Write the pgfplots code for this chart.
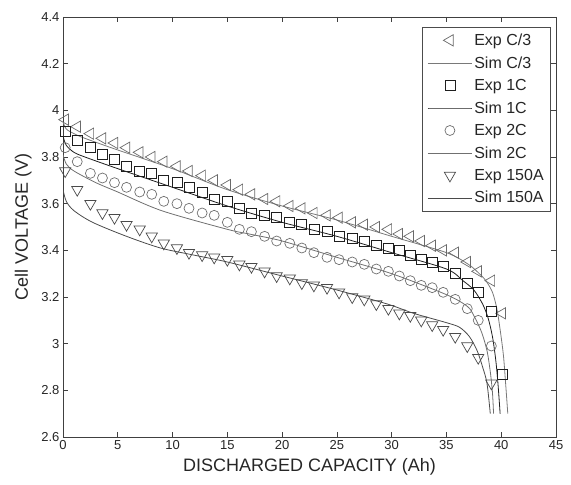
\documentclass[border=0pt]{standalone}
\usepackage{pgfplots}
\pgfplotsset{compat=1.18}
\usepackage{fontspec}
\setmainfont{Liberation Sans}

\definecolor{mkA}{HTML}{6A6A6A}
\definecolor{mkB}{HTML}{1E1E1E}
\definecolor{mkC}{HTML}{707070}
\definecolor{mkD}{HTML}{4A4A4A}

\begin{document}
\begin{tikzpicture}
\begin{axis}[
  width=493pt, height=420pt, scale only axis,
  xmin=0, xmax=45, ymin=2.6, ymax=4.4,
  xtick={0,5,...,45},
  ytick={2.6,2.8,3,3.2,3.4,3.6,3.8,4,4.2,4.4},
  yticklabels={2.6,2.8,3,3.2,3.4,3.6,3.8,4,4.2,4.4},
  tick align=inside,
  major tick length=5pt,
  axis line style={black!75, line width=0.6pt},
  tick style={black!75, line width=0.6pt},
  /pgf/number format/assume math mode=true,
  tick label style={font=\fontsize{13}{15}\selectfont, text=black!85},
  xlabel={DISCHARGED CAPACITY (Ah)},
  ylabel={Cell VOLTAGE (V)},
  label style={font=\fontsize{18}{20}\selectfont, text=black!85},
  xlabel style={yshift=-2pt},
  ylabel style={yshift=3pt},
  legend cell align=left,
  legend style={at={(rel axis cs:1,1)}, anchor=north east,
    xshift=-5pt, yshift=-10pt,
    font=\fontsize{16}{18}\selectfont, text=black!85,
    draw=black!70, line width=0.6pt,
    inner xsep=5pt, inner ysep=4.5pt, row sep=5.6pt},
  legend image code/.code={\draw[mark repeat=2,mark phase=2,#1]
    plot coordinates {(0pt,0pt)(22pt,0pt)(44pt,0pt)};},
]
% Exp C/3
\addplot[only marks, mark=triangle, mark size=6.5pt, draw=mkA, line width=0.7pt,
  mark options={rotate=90, fill=none}] coordinates {
(0.2,3.96)(1.3,3.93)(2.5,3.90)(3.6,3.88)(4.7,3.86)(5.8,3.84)(7.0,3.82)(8.1,3.80)
(9.2,3.78)(10.4,3.76)(11.5,3.74)(12.7,3.72)(13.8,3.70)(15.0,3.68)(16.1,3.66)
(17.2,3.64)(18.4,3.62)(19.5,3.61)(20.7,3.59)(21.8,3.58)(22.9,3.56)(24.1,3.55)
(25.2,3.54)(26.4,3.52)(27.5,3.51)(28.6,3.50)(29.7,3.49)(30.7,3.47)(31.7,3.46)
(32.7,3.44)(33.7,3.42)(34.7,3.40)(35.8,3.39)(36.9,3.35)(37.9,3.31)(39.1,3.27)
(40.1,3.13)};
\addlegendentry{Exp C/3}
% Sim C/3
\addplot[smooth, no marks, draw=mkA!90, line width=0.8pt] coordinates {
(0,3.95)(0.3,3.92)(1,3.90)(2,3.88)(5,3.83)(10,3.75)(15,3.66)(20,3.59)(25,3.53)
(30,3.46)(35,3.39)(37,3.34)(38,3.30)(38.6,3.27)(39.2,3.22)(39.6,3.15)(39.9,3.06)
(40.2,2.95)(40.4,2.83)(40.6,2.70)};
\addlegendentry{Sim C/3}
% Exp 1C
\addplot[only marks, mark=square, mark size=5pt, draw=mkB, line width=0.7pt,
  mark options={fill=none}] coordinates {
(0.2,3.91)(1.3,3.87)(2.5,3.84)(3.6,3.81)(4.7,3.79)(5.8,3.76)(7.0,3.74)(8.1,3.73)
(9.2,3.70)(10.4,3.69)(11.5,3.67)(12.7,3.65)(13.8,3.62)(15.0,3.61)(16.1,3.58)
(17.2,3.56)(18.4,3.55)(19.5,3.54)(20.7,3.52)(21.8,3.51)(22.9,3.49)(24.1,3.48)
(25.2,3.46)(26.4,3.45)(27.5,3.44)(28.6,3.42)(29.7,3.41)(30.7,3.40)(31.7,3.38)
(32.7,3.36)(33.7,3.35)(34.7,3.33)(35.8,3.30)(36.9,3.26)(37.9,3.22)(39.1,3.14)
(40.1,2.87)};
\addlegendentry{Exp 1C}
% Sim 1C
\addplot[smooth, no marks, draw=mkB, line width=0.8pt] coordinates {
(0,3.89)(0.3,3.85)(1,3.82)(2,3.80)(5,3.75)(10,3.67)(15,3.59)(20,3.52)(25,3.46)
(30,3.39)(35,3.32)(36.5,3.27)(37.5,3.23)(38.3,3.17)(38.8,3.11)(39.2,3.03)
(39.5,2.93)(39.7,2.83)(39.9,2.70)};
\addlegendentry{Sim 1C}
% Exp 2C
\addplot[only marks, mark=o, mark size=5pt, draw=mkC, line width=0.7pt] coordinates {
(0.2,3.84)(1.3,3.78)(2.5,3.73)(3.6,3.71)(4.7,3.69)(5.8,3.67)(7.0,3.65)(8.1,3.64)
(9.2,3.61)(10.4,3.60)(11.5,3.58)(12.7,3.56)(13.8,3.55)(15.0,3.52)(16.1,3.49)
(17.2,3.48)(18.4,3.46)(19.5,3.44)(20.7,3.43)(21.8,3.41)(22.9,3.39)(24.1,3.37)
(25.2,3.36)(26.4,3.35)(27.5,3.34)(28.6,3.32)(29.7,3.31)(30.7,3.29)(31.7,3.27)
(32.7,3.25)(33.7,3.24)(34.7,3.22)(35.8,3.19)(36.9,3.15)(37.9,3.10)(39.1,2.99)};
\addlegendentry{Exp 2C}
% Sim 2C
\addplot[smooth, no marks, draw=mkC, line width=0.8pt] coordinates {
(0,3.81)(0.3,3.77)(1,3.74)(3,3.69)(5,3.65)(9,3.57)(15,3.49)(17,3.47)(20,3.44)
(25,3.37)(30,3.30)(35,3.21)(36.9,3.16)(37.5,3.12)(38.2,3.05)(38.7,2.97)
(39.0,2.88)(39.2,2.79)(39.3,2.70)};
\addlegendentry{Sim 2C}
% Exp 150A
\addplot[only marks, mark=triangle, mark size=6.5pt, draw=mkD, line width=0.7pt,
  mark options={rotate=180, fill=none}] coordinates {
(0.2,3.74)(1.3,3.66)(2.5,3.60)(3.6,3.56)(4.7,3.54)(5.8,3.51)(7.0,3.49)(8.1,3.46)
(9.2,3.43)(10.4,3.41)(11.5,3.39)(12.7,3.38)(13.8,3.37)(15.0,3.36)(16.1,3.34)
(17.2,3.33)(18.4,3.31)(19.5,3.29)(20.7,3.28)(21.8,3.26)(22.9,3.25)(24.1,3.24)
(25.2,3.22)(26.4,3.20)(27.5,3.19)(28.6,3.17)(29.7,3.15)(30.7,3.13)(31.7,3.12)
(32.7,3.10)(33.7,3.08)(34.7,3.06)(35.8,3.03)(36.9,2.99)(37.9,2.94)(39.1,2.83)};
\addlegendentry{Exp 150A}
% Sim 150A
\addplot[smooth, no marks, draw=mkD, line width=0.8pt] coordinates {
(0,3.66)(0.3,3.61)(1,3.57)(2.7,3.52)(5.8,3.46)(8.9,3.41)(11.9,3.38)(15,3.35)
(20,3.29)(25,3.23)(29.6,3.17)(32,3.13)(35,3.09)(36.2,3.07)(37.1,3.03)(37.8,2.97)
(38.3,2.90)(38.7,2.83)(39.0,2.70)};
\addlegendentry{Sim 150A}
\end{axis}
\pgfresetboundingbox
\path ([xshift=-63pt,yshift=-47pt]current axis.south west)
  rectangle ([xshift=15pt,yshift=17pt]current axis.north east);
\end{tikzpicture}
\end{document}
